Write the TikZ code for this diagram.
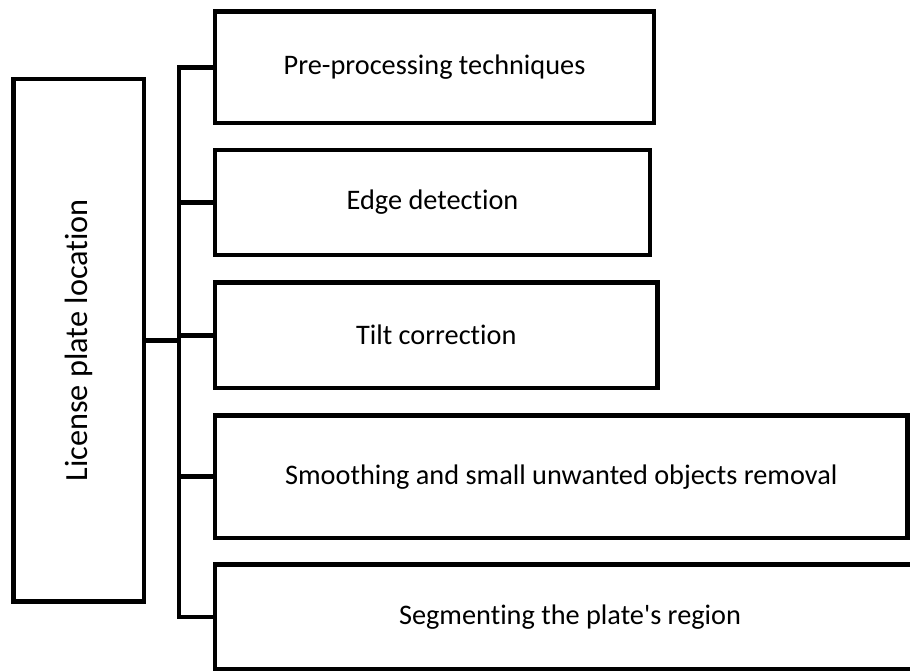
\documentclass[tikz,border=0pt]{standalone}
\usepackage{fontspec}
\setmainfont{Carlito}[Ligatures={TeXOff,NoCommon}]
\begin{document}
\begin{tikzpicture}[x=1pt,y=-1pt,
  lw/.style={line width=4.8pt},
  stepbox/.style={draw,lw,rectangle,inner sep=0pt,font=\fontsize{28.3}{34}\selectfont},
  link/.style={draw,lw}]
\useasboundingbox (0,0) rectangle (910,671);
\clip (0,0) rectangle (910,671);

% root box with vertical label
\node[stepbox,minimum width=130.7pt,minimum height=522.5pt] (lp) at (78.65,340.25)
  {\fontsize{32.3}{38}\selectfont\rotatebox{90}{License plate location}};

% processing steps
\node[stepbox,minimum width=439pt,minimum height=111.5pt] (b1) at (434.5,67.25) {Pre-processing techniques};
\node[stepbox,minimum width=435pt,minimum height=105pt]   (b2) at (432.5,202.5) {Edge detection};
\node[stepbox,minimum width=442.5pt,minimum height=105.5pt] (b3) at (436.25,335.25) {Tilt correction};
\node[stepbox,minimum width=692.5pt,minimum height=122.5pt] (b4) at (561.25,476.75) {Smoothing and small unwanted objects removal};
\node[stepbox,minimum width=710pt,minimum height=105pt]   (b5) at (570,617) {Segmenting the plate's region};

% vertical bus
\coordinate (bus) at (179,0);
\draw[link,line join=miter] (b1.west) -- (b1.west -| bus) -- (b5.west -| bus) -- (b5.west);
\draw[link] (b2.west) -- (b2.west -| bus);
\draw[link] (b3.west) -- (b3.west -| bus);
\draw[link] (b4.west) -- (b4.west -| bus);
\draw[link] (lp.east) -- (lp.east -| bus);
\end{tikzpicture}
\end{document}
